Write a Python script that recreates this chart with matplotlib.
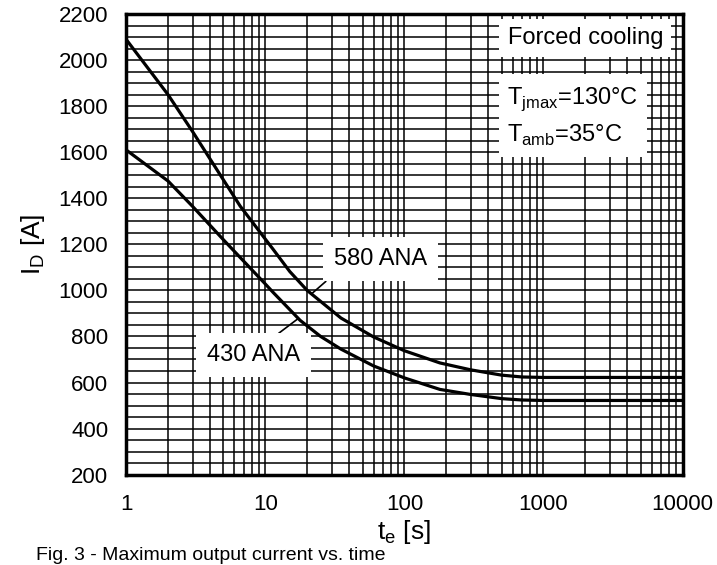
import matplotlib.pyplot as plt
import numpy as np

plt.rcParams['font.family'] = ['Liberation Sans', 'DejaVu Sans']

# leitura aproximada das curvas (t em s, I em A)
t_580 = [1, 2, 3, 5, 6.6, 10, 11.4, 15, 20, 35, 60, 100, 180, 300, 500, 700, 1000, 10000]
i_580 = [2090, 1850, 1690, 1480, 1366, 1223, 1178, 1082, 1000, 880, 798, 738, 685, 655, 632, 624, 622, 622]
t_430 = [1, 2, 3, 5, 6.6, 10, 11.4, 17.8, 25, 35, 60, 100, 180, 300, 500, 700, 1000, 10000]
i_430 = [1610, 1475, 1365, 1220, 1143, 1028, 991, 870, 800, 745, 672, 620, 570, 548, 530, 524, 522, 522]

x_ticks = [1, 10, 100, 1000, 10000]
x_ticklabels = ['1', '10', '100', '1000', '10000']
y_ticks = list(range(200, 2201, 200))

fig = plt.figure(figsize=(7.17, 5.65), dpi=100)
ax = fig.add_axes([0.176, 0.16, 0.776, 0.815])

ax.plot(t_580, i_580, color='k', lw=2.3, zorder=4)
ax.plot(t_430, i_430, color='k', lw=2.3, zorder=4)

ax.set_xscale('log')
ax.set_xlim(1, 10000)
ax.set_ylim(200, 2200)
ax.set_xticks(x_ticks)
ax.set_xticklabels(x_ticklabels)
ax.set_xticks([m * 10 ** d for d in range(4) for m in range(2, 10)], minor=True)
ax.set_xticklabels([], minor=True)
ax.set_yticks(y_ticks)
ax.set_yticks(np.arange(200, 2201, 50), minor=True)

# grade preta densa
ax.grid(True, which='both', color='k', lw=1.1)
ax.tick_params(which='both', length=0, labelsize=16)
ax.tick_params(axis='y', pad=13)
ax.tick_params(axis='x', pad=14)
for s in ax.spines.values():
    s.set_linewidth(2.5)
    s.set_zorder(5)

ax.set_ylabel(r'I$_\mathregular{D}$ [A]', fontsize=19, labelpad=8)
ax.set_xlabel(r't$_\mathregular{e}$ [s]', fontsize=19, labelpad=2)

box = dict(facecolor='white', edgecolor='none', pad=8)
ax.text(2000, 2096, 'Forced cooling', fontsize=17, va='center', ha='center',
        bbox=dict(facecolor='white', edgecolor='none', pad=6), zorder=6)
ax.text(550, 1754, r'T$_\mathregular{jmax}$=130°C' + '\n' + r'T$_\mathregular{amb}$=35°C',
        fontsize=17, va='center', ha='left', linespacing=1.55,
        bbox=dict(facecolor='white', edgecolor='none', pad=6), zorder=6)

ax.annotate('580 ANA', xy=(21.5, 985), xytext=(67, 1135), fontsize=17,
            ha='center', va='center', bbox=box, zorder=6,
            arrowprops=dict(arrowstyle='-', color='k', lw=1.2, shrinkA=0, shrinkB=0,
                            relpos=(0.08, 0.1)))
ax.annotate('430 ANA', xy=(17, 875), xytext=(8.2, 718), fontsize=17,
            ha='center', va='center', bbox=box, zorder=6,
            arrowprops=dict(arrowstyle='-', color='k', lw=1.2, shrinkA=0, shrinkB=0,
                            relpos=(0.6, 0.95)))

fig.text(0.05, 0.008, 'Fig. 3 - Maximum output current vs. time', fontsize=14, va='baseline')

fig.savefig('out.png', dpi=100)
